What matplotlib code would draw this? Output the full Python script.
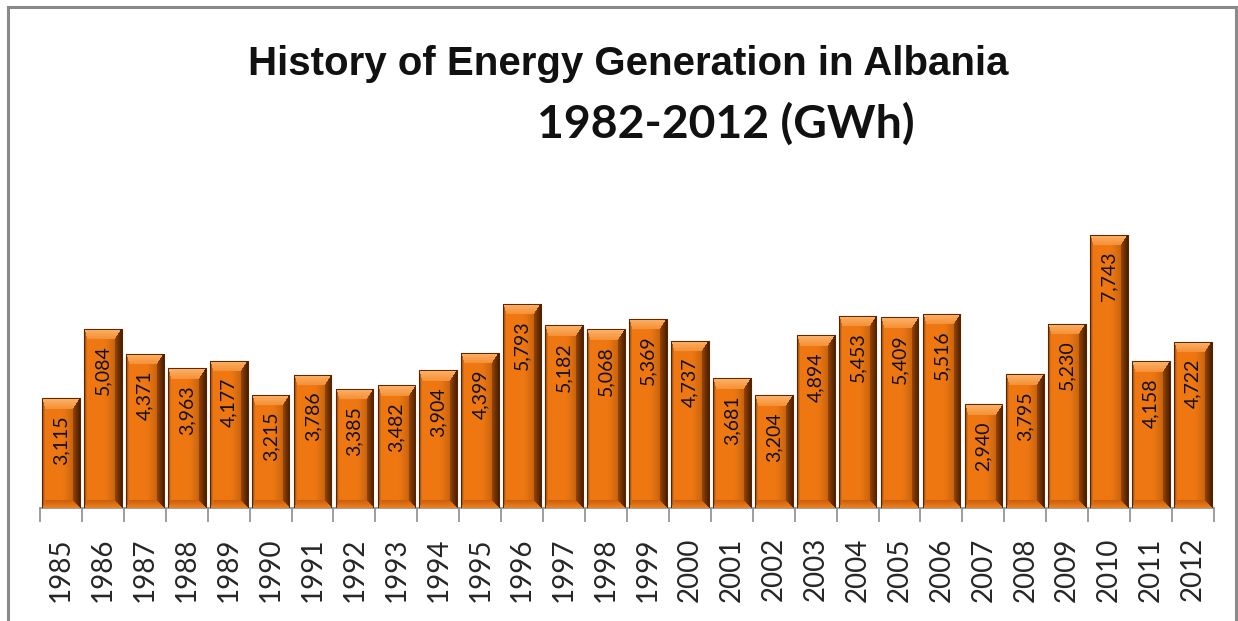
import numpy as np
import matplotlib
matplotlib.use("Agg")
import matplotlib.pyplot as plt
from matplotlib.patches import Rectangle

years = ["1985", "1986", "1987", "1988", "1989", "1990", "1991", "1992", "1993", "1994",
         "1995", "1996", "1997", "1998", "1999", "2000", "2001", "2002", "2003", "2004",
         "2005", "2006", "2007", "2008", "2009", "2010", "2011", "2012"]
generation = [3115, 5084, 4371, 3963, 4177, 3215, 3786, 3385, 3482, 3904,
              4399, 5793, 5182, 5068, 5369, 4737, 3681, 3204, 4894, 5453,
              5409, 5516, 2940, 3795, 5230, 7743, 4158, 4722]
title_line1 = "History of Energy Generation in Albania"
title_line2 = "1982-2012 (GWh)"

W, H = 1238, 621
fig = plt.figure(figsize=(W / 100, H / 100), dpi=100)
fig.patch.set_facecolor("white")

ax_left, ax_right, ax_base = 40, 1214, 508
px_per_unit = 0.03526
ymax = 9000
ax = fig.add_axes([ax_left / W, (H - ax_base) / H, (ax_right - ax_left) / W,
                   ymax * px_per_unit / H])
ax.set_xlim(-0.5, len(years) - 0.5)
ax.set_ylim(0, ymax)

bar_w = 0.9
x = np.arange(len(years))
bars = ax.bar(x, generation, width=bar_w, color="#E8730F", edgecolor="#6b2c00",
              linewidth=0.8, zorder=2)

base = np.array([0.94, 0.47, 0.07])


def bar_image(wpx, hpx):
    bt, bb, bl, br = 11.0, 8.0, 3.0, 7.0
    j = np.arange(wpx)[None, :].repeat(hpx, 0).astype(float)
    i = np.arange(hpx)[:, None].repeat(wpx, 1).astype(float)
    u = (j + 0.5) / wpx
    # body: bright on the left, darkening toward the right
    dk = np.clip((u - 0.5) / 0.5, 0, 1) ** 1.5 * 0.35
    img = base[None, None, :] * (1 - dk[..., None])
    dl = j
    dr = wpx - 1 - j
    dt = i
    db = hpx - 1 - i
    # normalised distances -> facet selection (mitred corners)
    stack = np.stack([dt / bt, db / bb, dl / bl, dr / br])
    which = stack.argmin(0)
    m = stack.min(0)
    facet = m < 1
    # top bevel: light peach fading inward
    sel = facet & (which == 0)
    t = dt[sel] / bt
    top_outer = np.array([0.99, 0.70, 0.42])
    top_inner = np.array([0.96, 0.56, 0.20])
    img[sel] = top_outer * (1 - t)[:, None] + top_inner * t[:, None]
    # bottom bevel: bright orange strip with darker inner rim
    sel = facet & (which == 1)
    t = db[sel] / bb
    bot_outer = np.array([0.93, 0.50, 0.12])
    bot_inner = np.array([0.78, 0.36, 0.04])
    img[sel] = bot_outer * (1 - t)[:, None] + bot_inner * t[:, None]
    # left edge: thin dark rim
    sel = facet & (which == 2)
    t = dl[sel] / bl
    img[sel] = np.array([0.55, 0.25, 0.02]) * (1 - t)[:, None] + np.array([0.96, 0.52, 0.12]) * t[:, None]
    # right bevel: dark brown
    sel = facet & (which == 3)
    t = dr[sel] / br
    img[sel] = np.array([0.30, 0.13, 0.0]) * (1 - t)[:, None] + np.array([0.62, 0.28, 0.03]) * t[:, None]
    return np.clip(img, 0, 1)


slot = (ax_right - ax_left) / len(years)
for rect, v in zip(bars, generation):
    wpx = int(round(bar_w * slot))
    hpx = max(int(round(v * px_per_unit)), 24)
    im = ax.imshow(bar_image(wpx, hpx), extent=(rect.get_x(), rect.get_x() + rect.get_width(), 0, v),
                   aspect="auto", interpolation="bilinear", zorder=3, origin="upper")
    im.set_clip_path(rect)
    outline = Rectangle((rect.get_x(), 0), rect.get_width(), v, fill=False,
                        edgecolor="#5a2400", linewidth=0.7, zorder=4)
    ax.add_patch(outline)

# value labels
off_units = 17 / px_per_unit
for xi, v in zip(x, generation):
    ax.text(xi, v - off_units, f"{v:,}", rotation=90, ha="center", va="top",
            fontsize=14, family="Lato", color="#111111", zorder=5)

# axes styling
for s in ["left", "right", "top"]:
    ax.spines[s].set_visible(False)
ax.spines["bottom"].set_color("#8c8c8c")
ax.spines["bottom"].set_linewidth(1.2)
ax.set_yticks([])
ax.set_xticks(x)
ax.set_xticklabels(years, rotation=90, fontsize=20, family="Lato", color="#262626")
ax.tick_params(axis="x", which="major", length=0, pad=21)
ax.set_xticks(np.arange(-0.5, len(years), 1.0), minor=True)
ax.tick_params(axis="x", which="minor", length=10, width=1.2, color="#8c8c8c")
ax.set_facecolor("none")

# titles, sized to match reference widths
t1 = fig.text(628.5 / W, 1 - 75 / H, title_line1, ha="center", va="baseline",
              fontsize=24, fontweight="bold", family="Liberation Sans", color="#111111")
t2 = fig.text(726 / W, 1 - 138 / H, title_line2, ha="center", va="baseline",
              fontsize=28, fontweight="bold", family="Lato", color="#111111")
r = fig.canvas.get_renderer()
for t, target in [(t1, 763), (t2, 378)]:
    w = t.get_window_extent(r).width
    t.set_fontsize(t.get_fontsize() * target / w)

# border
fig.add_artist(Rectangle((8 / W, -0.05), (1236 - 8) / W, 1.05 - 7 / H, transform=fig.transFigure,
                         fill=False, edgecolor="#8a8a8a", linewidth=2.2))

fig.savefig("out.png", dpi=100)
